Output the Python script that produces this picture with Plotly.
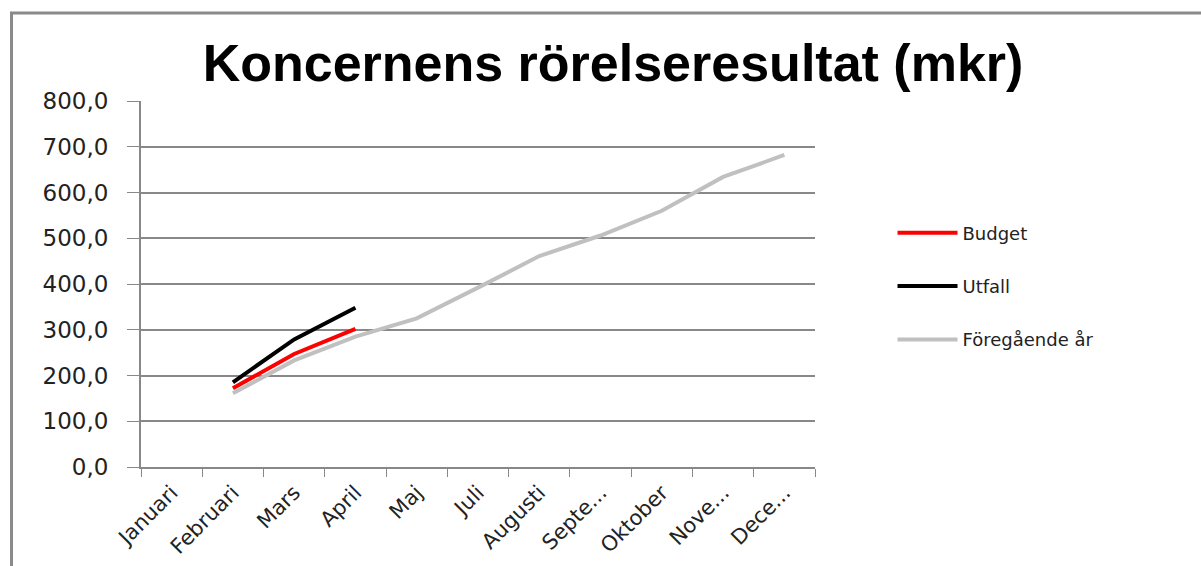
import plotly.graph_objects as go

months = ["Januari", "Februari", "Mars", "April", "Maj", "Juli", "Augusti",
          "Septe...", "Oktober", "Nove...", "Dece..."]
budget = [None, 172, 247, 302, None, None, None, None, None, None, None]
utfall = [None, 185, 279, 348, None, None, None, None, None, None, None]
foregaende = [None, 161, 233, 285, 325, 392, 461, 506, 560, 634, 682]
y_ticks = [0, 100, 200, 300, 400, 500, 600, 700, 800]
y_tick_text = ["0,0", "100,0", "200,0", "300,0", "400,0", "500,0", "600,0", "700,0", "800,0"]

fig = go.Figure()
fig.add_trace(go.Scatter(x=months, y=budget, name="Budget", mode="lines",
                         line=dict(color="#ff0000", width=4), legendgroup="a"))
fig.add_trace(go.Scatter(x=months, y=utfall, name="Utfall", mode="lines",
                         line=dict(color="#000000", width=4), legendgroup="b"))
fig.add_trace(go.Scatter(x=months, y=foregaende, name="Föregående år", mode="lines",
                         line=dict(color="#c0c0c0", width=4), legendgroup="c"))

fig.update_layout(
    width=1201, height=566,
    margin=dict(l=141, r=386, t=101, b=99, autoexpand=False),
    paper_bgcolor="white", plot_bgcolor="white",
    title=dict(text="<b>Koncernens rörelseresultat (mkr)</b>",
               font=dict(family="Liberation Sans", size=52, color="black"),
               x=613 / 1201, xref="container", xanchor="center",
               y=1 - 63 / 566, yref="container", yanchor="middle"),
    legend=dict(x=1.115, y=0.69, xanchor="left", yanchor="top",
                font=dict(family="DejaVu Sans", size=18, color="#222"),
                tracegroupgap=27, itemwidth=60, bgcolor="rgba(0,0,0,0)"),
    showlegend=True,
)
fig.update_xaxes(type="category", categoryorder="array", categoryarray=months,
                 tickangle=-45, tickson="boundaries", ticks="outside", ticklen=8,
                 tickcolor="#888", showline=True, linecolor="#888", linewidth=2,
                 showgrid=False, range=[-0.5, 10.5], ticklabelstandoff=3,
                 automargin=False,
                 tickfont=dict(family="DejaVu Sans", size=21, color="#222"))
fig.update_yaxes(range=[0, 800], tickvals=y_ticks, ticktext=y_tick_text,
                 ticks="outside", ticklen=12, tickcolor="#888",
                 showline=True, linecolor="#888", linewidth=2,
                 showgrid=True, gridcolor="#888", gridwidth=1.5, zeroline=False,
                 ticklabelstandoff=14, automargin=False,
                 tickfont=dict(family="DejaVu Sans", size=23, color="#222"))

fig.add_shape(type="rect", xref="paper", yref="paper",
              x0=(11.5 - 141) / 674, x1=(1230 - 141) / 674,
              y0=-0.6, y1=(467 - 13) / 366,
              line=dict(color="#8a8a8a", width=3), fillcolor="rgba(0,0,0,0)", layer="below")

fig.write_html("out.html", config={"displayModeBar": False},
               post_script="document.body.style.margin='0px';")
